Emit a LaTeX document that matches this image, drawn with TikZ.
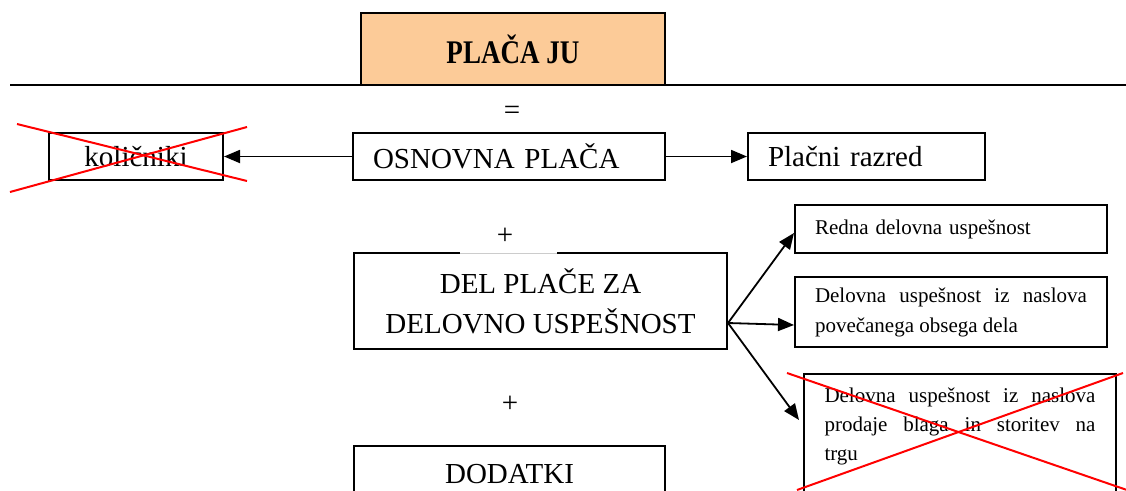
\documentclass[tikz,border=0pt]{standalone}
\usepackage{fontspec}
\setmainfont{Liberation Serif}
\usepackage{xcolor}
\usepackage{tikz}
\usetikzlibrary{arrows.meta, positioning, calc}
\definecolor{peach}{RGB}{252,203,152}
\tikzstyle{box} = [rectangle, draw, line width=2pt, text centered, inner sep=0pt, font=\fontsize{29}{40}\selectfont]
\tikzstyle{titlebox} = [box, fill=peach, minimum width=304pt, minimum height=72pt, font=\fontsize{33}{40}\selectfont\bfseries]
\tikzstyle{smallbox} = [box, minimum width=312pt, font=\fontsize{21}{30}\selectfont, align=left, inner xsep=20pt]
\tikzstyle{arrow} = [line width=1.8pt, -{Triangle[length=16pt,width=13pt]}]
\tikzstyle{cross} = [red, line width=2pt]
\tikzstyle{sign} = [font=\fontsize{29}{30}\selectfont]
\tolerance=9999

\begin{document}
\begin{tikzpicture}[x=1pt, y=-1pt]
        \useasboundingbox (0,0) rectangle (1126,490);

        % Heading and rule
        \draw [line width=2pt] (10,85) -- (1126,85);
        \node (placa) [titlebox] at (513,49) {\scalebox{0.82}[1]{PLAČA JU}};
        \node (enako) [sign] at (512,113) {=};

        % Basic pay
        \node (osnovna) [box, minimum width=312pt, minimum height=47pt, text width=272pt, align=left, inner xsep=20pt] at (509,156.5) {OSNOVNA PLAČA};
        \node (kolicniki) [box, minimum width=174pt, minimum height=47pt] at (136,156.5) {količniki};
        \node (razred) [box, minimum width=237pt, minimum height=47pt, text width=197pt, align=left, inner xsep=20pt] at (866.5,156.5) {Plačni razred};

        % Performance part
        \node (plus1) [sign] at (505,236) {+};
        \node (uspesnost) [box, minimum width=373pt, minimum height=96pt, align=center] at (540.5,301) {DEL PLAČE ZA\\DELOVNO USPEŠNOST};
        \draw [white, line width=3pt] (460,253) -- (557,253); % gap under the plus
        \draw [gray!40, line width=0.5pt] (460,253) -- (557,253);
        \node (redna) [smallbox, minimum height=48pt, text width=272pt] at (951,229) {Redna delovna uspešnost};
        \node (obseg) [smallbox, minimum height=70pt, text width=272pt, align=justify] at (951,312) {Delovna uspešnost iz naslova povečanega obsega dela};
        \node (prodaja) [smallbox, anchor=north west, inner ysep=14pt] at (803,373) {\parbox[c][104pt][t]{271pt}{\fontsize{21}{29}\selectfont Delovna uspešnost iz naslova prodaje blaga in storitev na\linebreak trgu}};

        % Allowances
        \node (plus2) [sign] at (510,404) {+};
        \node (dodatki) [box, anchor=north, minimum width=311pt, minimum height=56pt] at (509.5,445) {DODATKI};

        % Arrows
        \draw [arrow] (osnovna) -- (kolicniki);
        \draw [arrow] (osnovna) -- (razred);
        \coordinate (razcep) at ($(uspesnost.east)+(0,22)$);
        \draw [arrow] (razcep) -- ($(redna.west)+(0,4)$);
        \draw [arrow] (razcep) -- ($(obseg.west)+(0,13)$);
        \draw [arrow] (razcep) -- ($(prodaja.north west)+(-4,47)$);

        % Crossed-out boxes
        \draw [cross] (17,124) -- (247,181);
        \draw [cross] (10,192) -- (247,127);
        \draw [cross] (787,373) -- (1127,490);
        \draw [cross] (797,490) -- (1123,373);

    \end{tikzpicture}
\end{document}
